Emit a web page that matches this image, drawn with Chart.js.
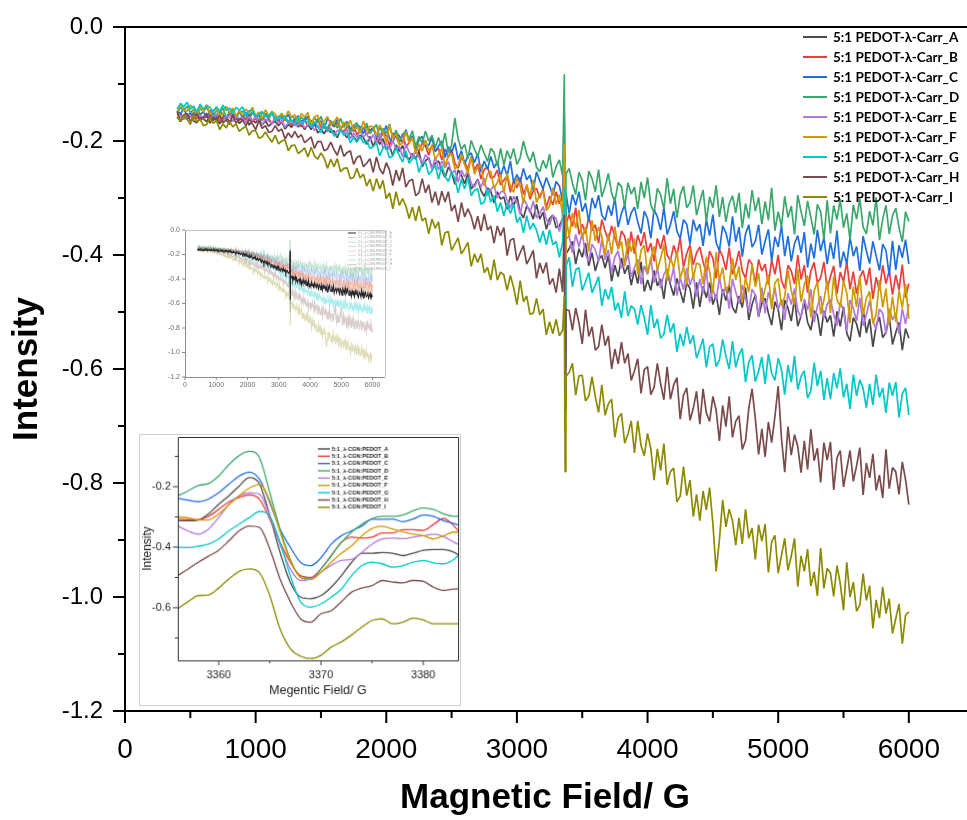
<!DOCTYPE html>
<html>
<head>
<meta charset="utf-8">
<title>EPR spectra of 5:1 PEDOT-λ-Carr</title>
<script src="https://cdn.jsdelivr.net/npm/chart.js@4.4.1/dist/chart.umd.min.js"></script>
<style>
  html, body { margin: 0; padding: 0; background: #fff; }
  #wrap { position: relative; width: 967px; height: 820px; overflow: hidden; background: #fff; }
  #main { position: absolute; left: 0; top: 0; }
  #overview { position: absolute; left: 160px; top: 222px; background: #fff; filter: blur(0.6px); }
  #esr { position: absolute; left: 139px; top: 434px; background: #fff; border: 1px solid #cfcfcf; }
</style>
</head>
<body>
<div id="wrap">
  <canvas id="main" width="967" height="820"></canvas>
  <canvas id="overview" width="232" height="186"></canvas>
  <canvas id="esr" width="322" height="272"></canvas>
</div>
<script>
// ---------- wide field sweep (G), one reading every 25 G ----------
const MAG_FIELD = [
  400,425,450,475,500,525,550,575,600,625,650,675,700,725,750,775,800,825,850,875,
  900,925,950,975,1000,1025,1050,1075,1100,1125,1150,1175,1200,1225,1250,1275,1300,1325,1350,1375,
  1400,1425,1450,1475,1500,1525,1550,1575,1600,1625,1650,1675,1700,1725,1750,1775,1800,1825,1850,1875,
  1900,1925,1950,1975,2000,2025,2050,2075,2100,2125,2150,2175,2200,2225,2250,2275,2300,2325,2350,2375,
  2400,2425,2450,2475,2500,2525,2550,2575,2600,2625,2650,2675,2700,2725,2750,2775,2800,2825,2850,2875,
  2900,2925,2950,2975,3000,3025,3050,3075,3100,3125,3150,3175,3200,3225,3250,3275,3300,3325,3350,3375,
  3400,3425,3450,3475,3500,3525,3550,3575,3600,3625,3650,3675,3700,3725,3750,3775,3800,3825,3850,3875,
  3900,3925,3950,3975,4000,4025,4050,4075,4100,4125,4150,4175,4200,4225,4250,4275,4300,4325,4350,4375,
  4400,4425,4450,4475,4500,4525,4550,4575,4600,4625,4650,4675,4700,4725,4750,4775,4800,4825,4850,4875,
  4900,4925,4950,4975,5000,5025,5050,5075,5100,5125,5150,5175,5200,5225,5250,5275,5300,5325,5350,5375,
  5400,5425,5450,5475,5500,5525,5550,5575,5600,5625,5650,5675,5700,5725,5750,5775,5800,5825,5850,5875,
  5900,5925,5950,5975,6000];

const SERIES_A = [
  -0.158,-0.166,-0.156,-0.162,-0.155,-0.165,-0.168,-0.159,-0.161,-0.166,-0.155,-0.164,-0.159,-0.170,-0.161,-0.158,-0.166,-0.164,-0.158,-0.169,
  -0.164,-0.160,-0.172,-0.164,-0.168,-0.161,-0.172,-0.165,-0.174,-0.169,-0.166,-0.173,-0.166,-0.179,-0.171,-0.176,-0.167,-0.175,-0.170,-0.180,
  -0.171,-0.180,-0.168,-0.186,-0.180,-0.187,-0.176,-0.185,-0.182,-0.194,-0.180,-0.187,-0.194,-0.185,-0.193,-0.200,-0.190,-0.194,-0.206,-0.192,
  -0.210,-0.195,-0.206,-0.196,-0.215,-0.209,-0.226,-0.207,-0.218,-0.208,-0.227,-0.233,-0.222,-0.232,-0.218,-0.245,-0.235,-0.229,-0.248,-0.239,
  -0.235,-0.251,-0.264,-0.246,-0.255,-0.276,-0.251,-0.260,-0.275,-0.257,-0.284,-0.277,-0.267,-0.287,-0.297,-0.282,-0.288,-0.309,-0.289,-0.302,
  -0.298,-0.320,-0.297,-0.314,-0.297,-0.325,-0.335,-0.314,-0.322,-0.337,-0.311,-0.337,-0.325,-0.355,-0.336,-0.330,-0.352,-0.349,-0.336,-0.398,
  -0.389,-0.376,-0.416,-0.389,-0.404,-0.379,-0.419,-0.396,-0.428,-0.408,-0.401,-0.423,-0.401,-0.446,-0.418,-0.438,-0.405,-0.433,-0.418,-0.453,
  -0.426,-0.450,-0.412,-0.464,-0.444,-0.462,-0.427,-0.454,-0.442,-0.477,-0.431,-0.452,-0.471,-0.441,-0.463,-0.484,-0.449,-0.459,-0.494,-0.448,
  -0.491,-0.455,-0.475,-0.448,-0.487,-0.469,-0.505,-0.460,-0.480,-0.453,-0.492,-0.502,-0.472,-0.492,-0.457,-0.514,-0.487,-0.470,-0.508,-0.485,
  -0.476,-0.502,-0.523,-0.482,-0.496,-0.532,-0.479,-0.493,-0.516,-0.476,-0.525,-0.507,-0.482,-0.518,-0.532,-0.498,-0.505,-0.542,-0.498,-0.518,
  -0.506,-0.543,-0.499,-0.525,-0.491,-0.537,-0.551,-0.510,-0.521,-0.544,-0.494,-0.537,-0.512,-0.561,-0.524,-0.509,-0.545,-0.536,-0.508,-0.557,
  -0.536,-0.518,-0.567,-0.529,-0.546];
const SERIES_B = [
  -0.155,-0.151,-0.162,-0.154,-0.157,-0.150,-0.161,-0.154,-0.162,-0.156,-0.154,-0.159,-0.153,-0.165,-0.157,-0.162,-0.152,-0.159,-0.155,-0.164,
  -0.156,-0.162,-0.153,-0.166,-0.161,-0.166,-0.157,-0.164,-0.161,-0.170,-0.158,-0.164,-0.168,-0.161,-0.166,-0.172,-0.163,-0.166,-0.175,-0.163,
  -0.174,-0.164,-0.171,-0.164,-0.175,-0.171,-0.182,-0.169,-0.175,-0.168,-0.180,-0.183,-0.175,-0.181,-0.172,-0.189,-0.181,-0.177,-0.189,-0.182,
  -0.178,-0.190,-0.200,-0.184,-0.191,-0.208,-0.186,-0.193,-0.204,-0.188,-0.210,-0.203,-0.194,-0.211,-0.218,-0.204,-0.209,-0.225,-0.207,-0.217,
  -0.213,-0.233,-0.214,-0.229,-0.214,-0.239,-0.248,-0.229,-0.237,-0.250,-0.227,-0.251,-0.240,-0.267,-0.250,-0.245,-0.265,-0.263,-0.251,-0.277,
  -0.269,-0.261,-0.290,-0.270,-0.282,-0.264,-0.294,-0.278,-0.302,-0.288,-0.283,-0.300,-0.284,-0.317,-0.297,-0.312,-0.289,-0.310,-0.299,-0.348,
  -0.328,-0.350,-0.317,-0.364,-0.346,-0.363,-0.333,-0.357,-0.347,-0.379,-0.338,-0.358,-0.375,-0.349,-0.369,-0.388,-0.358,-0.367,-0.399,-0.359,
  -0.398,-0.365,-0.384,-0.360,-0.395,-0.379,-0.411,-0.371,-0.389,-0.365,-0.400,-0.410,-0.383,-0.401,-0.369,-0.421,-0.397,-0.382,-0.417,-0.396,
  -0.386,-0.412,-0.432,-0.393,-0.406,-0.441,-0.390,-0.403,-0.426,-0.387,-0.434,-0.417,-0.393,-0.428,-0.441,-0.408,-0.416,-0.451,-0.408,-0.428,
  -0.416,-0.452,-0.408,-0.434,-0.400,-0.445,-0.459,-0.418,-0.428,-0.451,-0.400,-0.443,-0.418,-0.466,-0.428,-0.413,-0.449,-0.440,-0.412,-0.460,
  -0.438,-0.419,-0.468,-0.430,-0.447,-0.412,-0.460,-0.429,-0.468,-0.440,-0.427,-0.453,-0.422,-0.477,-0.439,-0.462,-0.418,-0.450,-0.428,-0.470,
  -0.435,-0.461,-0.417,-0.475,-0.450];
const SERIES_C = [
  -0.147,-0.153,-0.142,-0.157,-0.151,-0.156,-0.146,-0.153,-0.149,-0.159,-0.146,-0.152,-0.157,-0.148,-0.154,-0.160,-0.149,-0.152,-0.162,-0.148,
  -0.160,-0.150,-0.156,-0.149,-0.159,-0.155,-0.164,-0.152,-0.158,-0.151,-0.161,-0.164,-0.156,-0.162,-0.153,-0.167,-0.161,-0.156,-0.166,-0.161,
  -0.157,-0.166,-0.173,-0.161,-0.166,-0.178,-0.161,-0.166,-0.174,-0.162,-0.178,-0.173,-0.166,-0.178,-0.183,-0.172,-0.175,-0.187,-0.174,-0.181,
  -0.177,-0.194,-0.175,-0.188,-0.173,-0.196,-0.203,-0.185,-0.191,-0.203,-0.180,-0.201,-0.191,-0.215,-0.198,-0.192,-0.210,-0.207,-0.195,-0.219,
  -0.209,-0.200,-0.229,-0.210,-0.221,-0.203,-0.232,-0.217,-0.240,-0.226,-0.221,-0.238,-0.222,-0.254,-0.235,-0.250,-0.227,-0.247,-0.236,-0.262,
  -0.243,-0.261,-0.235,-0.273,-0.259,-0.272,-0.248,-0.268,-0.260,-0.286,-0.254,-0.270,-0.284,-0.264,-0.279,-0.295,-0.271,-0.279,-0.305,-0.291,
  -0.327,-0.294,-0.313,-0.289,-0.324,-0.309,-0.341,-0.300,-0.318,-0.295,-0.330,-0.339,-0.313,-0.331,-0.299,-0.351,-0.327,-0.312,-0.347,-0.326,
  -0.316,-0.342,-0.362,-0.323,-0.336,-0.371,-0.320,-0.333,-0.356,-0.317,-0.364,-0.347,-0.323,-0.358,-0.371,-0.338,-0.346,-0.381,-0.338,-0.358,
  -0.346,-0.384,-0.338,-0.366,-0.329,-0.378,-0.393,-0.349,-0.361,-0.385,-0.332,-0.377,-0.351,-0.403,-0.363,-0.347,-0.386,-0.376,-0.347,-0.399,
  -0.376,-0.355,-0.410,-0.368,-0.386,-0.348,-0.402,-0.367,-0.411,-0.380,-0.366,-0.396,-0.360,-0.422,-0.380,-0.406,-0.356,-0.393,-0.369,-0.416,
  -0.378,-0.407,-0.357,-0.422,-0.394,-0.416,-0.369,-0.402,-0.385,-0.428,-0.367,-0.393,-0.415,-0.376,-0.402,-0.427,-0.381,-0.392,-0.436,-0.375,
  -0.426,-0.383,-0.405,-0.373,-0.416];
const SERIES_D = [
  -0.151,-0.141,-0.147,-0.139,-0.150,-0.145,-0.156,-0.143,-0.148,-0.141,-0.152,-0.155,-0.147,-0.152,-0.142,-0.159,-0.151,-0.146,-0.157,-0.150,
  -0.148,-0.155,-0.161,-0.150,-0.154,-0.165,-0.150,-0.154,-0.161,-0.150,-0.164,-0.159,-0.152,-0.163,-0.167,-0.157,-0.160,-0.170,-0.158,-0.164,
  -0.160,-0.173,-0.158,-0.168,-0.157,-0.173,-0.178,-0.165,-0.169,-0.177,-0.160,-0.176,-0.168,-0.185,-0.173,-0.168,-0.181,-0.178,-0.169,-0.187,
  -0.179,-0.171,-0.196,-0.178,-0.187,-0.170,-0.196,-0.181,-0.201,-0.188,-0.183,-0.197,-0.182,-0.210,-0.192,-0.204,-0.183,-0.200,-0.190,-0.212,
  -0.194,-0.211,-0.186,-0.221,-0.207,-0.160,-0.196,-0.215,-0.206,-0.231,-0.199,-0.214,-0.227,-0.207,-0.222,-0.236,-0.213,-0.220,-0.244,-0.213,
  -0.242,-0.217,-0.232,-0.213,-0.241,-0.229,-0.200,-0.223,-0.237,-0.219,-0.246,-0.254,-0.234,-0.248,-0.223,-0.264,-0.245,-0.233,-0.261,-0.258,
  -0.248,-0.274,-0.294,-0.255,-0.269,-0.304,-0.253,-0.266,-0.289,-0.250,-0.298,-0.280,-0.257,-0.292,-0.306,-0.273,-0.280,-0.316,-0.273,-0.293,
  -0.281,-0.319,-0.272,-0.300,-0.264,-0.312,-0.326,-0.283,-0.294,-0.319,-0.265,-0.310,-0.284,-0.335,-0.295,-0.279,-0.317,-0.308,-0.278,-0.330,
  -0.307,-0.286,-0.341,-0.298,-0.317,-0.278,-0.333,-0.298,-0.342,-0.310,-0.296,-0.326,-0.291,-0.353,-0.310,-0.336,-0.286,-0.323,-0.299,-0.346,
  -0.306,-0.339,-0.282,-0.357,-0.324,-0.350,-0.297,-0.334,-0.314,-0.364,-0.295,-0.324,-0.349,-0.305,-0.334,-0.364,-0.311,-0.324,-0.373,-0.304,
  -0.362,-0.313,-0.338,-0.302,-0.352,-0.327,-0.373,-0.312,-0.337,-0.301,-0.351,-0.363,-0.323,-0.348,-0.299,-0.374,-0.337,-0.313,-0.363,-0.331,
  -0.318,-0.352,-0.377,-0.324,-0.341];
const SERIES_E = [
  -0.151,-0.157,-0.161,-0.152,-0.156,-0.163,-0.152,-0.155,-0.160,-0.151,-0.162,-0.158,-0.153,-0.161,-0.164,-0.157,-0.158,-0.166,-0.157,-0.161,
  -0.159,-0.167,-0.158,-0.164,-0.157,-0.167,-0.171,-0.162,-0.165,-0.170,-0.160,-0.170,-0.164,-0.176,-0.168,-0.165,-0.173,-0.172,-0.166,-0.177,
  -0.172,-0.168,-0.182,-0.173,-0.178,-0.170,-0.184,-0.177,-0.189,-0.182,-0.179,-0.187,-0.180,-0.196,-0.186,-0.194,-0.182,-0.193,-0.187,-0.200,
  -0.189,-0.203,-0.186,-0.213,-0.204,-0.215,-0.199,-0.214,-0.209,-0.228,-0.206,-0.219,-0.229,-0.216,-0.228,-0.240,-0.224,-0.231,-0.250,-0.228,
  -0.251,-0.235,-0.247,-0.236,-0.258,-0.251,-0.272,-0.251,-0.263,-0.252,-0.274,-0.281,-0.268,-0.281,-0.265,-0.296,-0.285,-0.278,-0.300,-0.290,
  -0.287,-0.304,-0.318,-0.297,-0.307,-0.329,-0.301,-0.311,-0.326,-0.305,-0.335,-0.327,-0.315,-0.337,-0.347,-0.330,-0.336,-0.359,-0.336,-0.372,
  -0.367,-0.396,-0.364,-0.386,-0.361,-0.399,-0.411,-0.381,-0.391,-0.411,-0.373,-0.408,-0.391,-0.431,-0.403,-0.393,-0.423,-0.418,-0.398,-0.438,
  -0.422,-0.407,-0.451,-0.419,-0.434,-0.405,-0.449,-0.422,-0.458,-0.434,-0.424,-0.448,-0.422,-0.471,-0.439,-0.461,-0.423,-0.453,-0.435,-0.473,
  -0.442,-0.468,-0.426,-0.483,-0.459,-0.479,-0.440,-0.469,-0.455,-0.494,-0.442,-0.465,-0.485,-0.453,-0.476,-0.499,-0.460,-0.470,-0.509,-0.457,
  -0.502,-0.465,-0.485,-0.457,-0.496,-0.478,-0.514,-0.467,-0.487,-0.459,-0.498,-0.509,-0.477,-0.497,-0.460,-0.518,-0.490,-0.472,-0.511,-0.486,
  -0.478,-0.504,-0.524,-0.483,-0.497,-0.533,-0.479,-0.493,-0.516,-0.475,-0.524,-0.505,-0.480,-0.516,-0.530,-0.495,-0.502,-0.538,-0.494,-0.514,
  -0.502,-0.538,-0.494,-0.521,-0.486];
const SERIES_F = [
  -0.150,-0.135,-0.145,-0.148,-0.137,-0.143,-0.155,-0.140,-0.149,-0.136,-0.152,-0.146,-0.143,-0.156,-0.152,-0.139,-0.150,-0.142,-0.157,-0.146,
  -0.156,-0.144,-0.151,-0.141,-0.156,-0.149,-0.162,-0.145,-0.156,-0.148,-0.153,-0.162,-0.151,-0.161,-0.147,-0.158,-0.154,-0.166,-0.152,-0.158,
  -0.150,-0.171,-0.158,-0.155,-0.172,-0.165,-0.157,-0.172,-0.166,-0.158,-0.180,-0.167,-0.174,-0.164,-0.181,-0.175,-0.185,-0.165,-0.183,-0.174,
  -0.175,-0.191,-0.172,-0.184,-0.203,-0.172,-0.196,-0.187,-0.207,-0.204,-0.184,-0.203,-0.194,-0.223,-0.205,-0.218,-0.198,-0.217,-0.208,-0.232,
  -0.223,-0.213,-0.245,-0.225,-0.223,-0.249,-0.243,-0.223,-0.242,-0.257,-0.228,-0.258,-0.246,-0.241,-0.279,-0.258,-0.253,-0.283,-0.273,-0.258,
  -0.291,-0.257,-0.280,-0.290,-0.265,-0.279,-0.310,-0.276,-0.297,-0.268,-0.308,-0.294,-0.288,-0.322,-0.314,-0.282,-0.311,-0.294,-0.329,-0.333,
  -0.368,-0.326,-0.353,-0.321,-0.372,-0.350,-0.394,-0.339,-0.375,-0.351,-0.367,-0.400,-0.362,-0.399,-0.350,-0.390,-0.376,-0.419,-0.371,-0.394,
  -0.371,-0.434,-0.392,-0.383,-0.432,-0.408,-0.385,-0.426,-0.406,-0.382,-0.445,-0.404,-0.423,-0.393,-0.441,-0.421,-0.452,-0.389,-0.441,-0.414,
  -0.417,-0.451,-0.403,-0.429,-0.467,-0.395,-0.445,-0.422,-0.464,-0.453,-0.405,-0.444,-0.420,-0.483,-0.439,-0.465,-0.417,-0.456,-0.432,-0.483,
  -0.459,-0.434,-0.495,-0.449,-0.441,-0.489,-0.473,-0.427,-0.462,-0.488,-0.425,-0.482,-0.452,-0.436,-0.510,-0.463,-0.447,-0.504,-0.479,-0.445,
  -0.502,-0.438,-0.478,-0.491,-0.445,-0.467,-0.519,-0.456,-0.491,-0.436,-0.505,-0.476,-0.464,-0.520,-0.504,-0.444,-0.492,-0.459,-0.520,-0.473,
  -0.517,-0.462,-0.493,-0.451,-0.512];
const SERIES_G = [
  -0.144,-0.134,-0.140,-0.132,-0.144,-0.139,-0.149,-0.135,-0.144,-0.138,-0.141,-0.149,-0.140,-0.148,-0.137,-0.146,-0.142,-0.152,-0.141,-0.146,
  -0.140,-0.155,-0.147,-0.146,-0.157,-0.153,-0.148,-0.158,-0.155,-0.150,-0.165,-0.156,-0.162,-0.156,-0.167,-0.163,-0.171,-0.158,-0.170,-0.165,
  -0.166,-0.176,-0.166,-0.174,-0.185,-0.169,-0.183,-0.179,-0.191,-0.190,-0.180,-0.190,-0.186,-0.203,-0.194,-0.202,-0.192,-0.203,-0.199,-0.213,
  -0.210,-0.203,-0.226,-0.212,-0.211,-0.230,-0.226,-0.212,-0.226,-0.237,-0.217,-0.239,-0.231,-0.227,-0.255,-0.240,-0.237,-0.259,-0.252,-0.242,
  -0.267,-0.243,-0.262,-0.271,-0.254,-0.266,-0.291,-0.267,-0.284,-0.264,-0.296,-0.286,-0.284,-0.311,-0.307,-0.284,-0.307,-0.296,-0.324,-0.308,
  -0.331,-0.309,-0.327,-0.311,-0.343,-0.333,-0.361,-0.331,-0.355,-0.344,-0.356,-0.378,-0.358,-0.382,-0.356,-0.382,-0.376,-0.404,-0.378,-0.420,
  -0.404,-0.456,-0.426,-0.422,-0.462,-0.447,-0.431,-0.466,-0.453,-0.438,-0.489,-0.460,-0.478,-0.456,-0.497,-0.484,-0.510,-0.464,-0.507,-0.489,
  -0.495,-0.522,-0.488,-0.510,-0.540,-0.488,-0.528,-0.512,-0.546,-0.539,-0.505,-0.536,-0.520,-0.570,-0.538,-0.560,-0.526,-0.556,-0.541,-0.581,
  -0.565,-0.547,-0.597,-0.561,-0.556,-0.596,-0.584,-0.548,-0.578,-0.600,-0.551,-0.597,-0.575,-0.564,-0.623,-0.588,-0.576,-0.622,-0.604,-0.579,
  -0.626,-0.574,-0.607,-0.620,-0.581,-0.601,-0.645,-0.593,-0.623,-0.577,-0.636,-0.613,-0.603,-0.651,-0.638,-0.589,-0.630,-0.603,-0.654,-0.616,
  -0.653,-0.607,-0.634,-0.599,-0.650,-0.626,-0.670,-0.610,-0.647,-0.619,-0.634,-0.668,-0.626,-0.663,-0.610,-0.650,-0.633,-0.677,-0.624,-0.647,
  -0.623,-0.685,-0.643,-0.633,-0.681];
const SERIES_H = [
  -0.148,-0.166,-0.154,-0.152,-0.165,-0.159,-0.152,-0.164,-0.158,-0.152,-0.169,-0.158,-0.163,-0.155,-0.168,-0.163,-0.171,-0.154,-0.169,-0.161,
  -0.163,-0.173,-0.162,-0.170,-0.180,-0.164,-0.178,-0.173,-0.185,-0.183,-0.173,-0.183,-0.179,-0.196,-0.186,-0.194,-0.183,-0.194,-0.189,-0.203,
  -0.198,-0.193,-0.213,-0.201,-0.201,-0.217,-0.214,-0.202,-0.215,-0.225,-0.207,-0.227,-0.220,-0.217,-0.241,-0.229,-0.226,-0.245,-0.239,-0.231,
  -0.255,-0.228,-0.249,-0.258,-0.238,-0.251,-0.278,-0.251,-0.270,-0.247,-0.281,-0.270,-0.267,-0.296,-0.291,-0.266,-0.291,-0.277,-0.308,-0.289,
  -0.313,-0.288,-0.307,-0.289,-0.323,-0.312,-0.342,-0.308,-0.333,-0.319,-0.332,-0.355,-0.332,-0.358,-0.328,-0.356,-0.349,-0.379,-0.349,-0.366,
  -0.352,-0.401,-0.374,-0.371,-0.410,-0.396,-0.383,-0.416,-0.405,-0.392,-0.441,-0.414,-0.432,-0.413,-0.452,-0.441,-0.466,-0.424,-0.465,-0.495,
  -0.498,-0.532,-0.493,-0.519,-0.556,-0.496,-0.543,-0.526,-0.567,-0.561,-0.522,-0.559,-0.542,-0.600,-0.565,-0.591,-0.553,-0.590,-0.573,-0.620,
  -0.603,-0.582,-0.643,-0.601,-0.596,-0.645,-0.632,-0.590,-0.626,-0.654,-0.596,-0.653,-0.628,-0.615,-0.688,-0.646,-0.633,-0.690,-0.669,-0.639,
  -0.697,-0.635,-0.677,-0.692,-0.648,-0.672,-0.726,-0.664,-0.701,-0.648,-0.720,-0.692,-0.682,-0.741,-0.726,-0.669,-0.635,-0.687,-0.750,-0.705,
  -0.754,-0.693,-0.729,-0.683,-0.630,-0.721,-0.781,-0.701,-0.751,-0.715,-0.736,-0.782,-0.726,-0.776,-0.706,-0.761,-0.739,-0.799,-0.729,-0.760,
  -0.728,-0.812,-0.756,-0.743,-0.807,-0.775,-0.743,-0.797,-0.770,-0.738,-0.821,-0.765,-0.791,-0.749,-0.813,-0.786,-0.826,-0.741,-0.810,-0.773,
  -0.780,-0.820,-0.763,-0.794,-0.838];
const SERIES_I = [
  -0.157,-0.166,-0.155,-0.162,-0.171,-0.154,-0.167,-0.162,-0.173,-0.171,-0.159,-0.169,-0.164,-0.180,-0.170,-0.177,-0.166,-0.175,-0.170,-0.183,
  -0.178,-0.174,-0.190,-0.182,-0.182,-0.195,-0.193,-0.184,-0.194,-0.202,-0.190,-0.205,-0.200,-0.198,-0.217,-0.208,-0.207,-0.222,-0.218,-0.212,
  -0.228,-0.211,-0.226,-0.232,-0.221,-0.230,-0.248,-0.232,-0.245,-0.231,-0.254,-0.248,-0.247,-0.266,-0.264,-0.248,-0.265,-0.258,-0.279,-0.267,
  -0.288,-0.266,-0.284,-0.269,-0.301,-0.291,-0.319,-0.289,-0.313,-0.301,-0.314,-0.336,-0.316,-0.340,-0.314,-0.340,-0.335,-0.363,-0.337,-0.353,
  -0.342,-0.383,-0.361,-0.359,-0.392,-0.381,-0.370,-0.398,-0.389,-0.378,-0.420,-0.398,-0.413,-0.398,-0.431,-0.422,-0.444,-0.408,-0.444,-0.430,
  -0.435,-0.462,-0.436,-0.457,-0.487,-0.445,-0.482,-0.472,-0.504,-0.502,-0.476,-0.505,-0.495,-0.540,-0.517,-0.538,-0.513,-0.542,-0.532,-0.613,
  -0.606,-0.590,-0.646,-0.612,-0.611,-0.656,-0.648,-0.614,-0.649,-0.676,-0.628,-0.681,-0.661,-0.653,-0.720,-0.686,-0.678,-0.730,-0.714,-0.691,
  -0.747,-0.691,-0.734,-0.752,-0.713,-0.740,-0.795,-0.740,-0.778,-0.731,-0.803,-0.780,-0.774,-0.833,-0.823,-0.771,-0.822,-0.795,-0.859,-0.820,
  -0.866,-0.814,-0.847,-0.808,-0.871,-0.955,-0.900,-0.830,-0.877,-0.846,-0.866,-0.909,-0.861,-0.907,-0.846,-0.897,-0.879,-0.934,-0.873,-0.902,
  -0.872,-0.957,-0.903,-0.892,-0.958,-0.927,-0.897,-0.953,-0.928,-0.897,-0.982,-0.928,-0.955,-0.916,-0.981,-0.956,-0.998,-0.914,-0.985,-0.950,
  -0.958,-0.999,-0.945,-0.976,-1.023,-0.939,-1.000,-0.974,-1.025,-1.014,-0.959,-1.006,-0.980,-1.055,-1.005,-1.037,-0.982,-1.029,-1.003,-1.064,
  -1.038,-1.012,-1.082,-1.032,-1.026];

// narrow resonance line sitting between 3350 G and 3375 G (peak, then trough), A..I
const SPIKE_FIELD = [3363, 3369];
const SPIKE_TOP = [-0.170, -0.227, -0.152, -0.083, -0.220, -0.205, -0.282, -0.330, -0.472];
const SPIKE_BOTTOM = [-0.570, -0.500, -0.461, -0.505, -0.510, -0.507, -0.598, -0.670, -0.780];

const SERIES_NAMES = ['5:1 PEDOT-λ-Carr_A','5:1 PEDOT-λ-Carr_B','5:1 PEDOT-λ-Carr_C','5:1 PEDOT-λ-Carr_D',
  '5:1 PEDOT-λ-Carr_E','5:1 PEDOT-λ-Carr_F','5:1 PEDOT-λ-Carr_G','5:1 PEDOT-λ-Carr_H','5:1 PEDOT-λ-Carr_I'];
const X_TICKS = [0, 1000, 2000, 3000, 4000, 5000, 6000];
const X_LABELS = ['0', '1000', '2000', '3000', '4000', '5000', '6000'];
const X_MINOR = [500, 1500, 2500, 3500, 4500, 5500];
const Y_TICKS = [0, -0.2, -0.4, -0.6, -0.8, -1.0, -1.2];
const Y_LABELS = ['0.0', '-0.2', '-0.4', '-0.6', '-0.8', '-1.0', '-1.2'];
const Y_MINOR = [-0.1, -0.3, -0.5, -0.7, -0.9, -1.1];

// ---------- narrow sweep around the resonance (G) ----------
const ESR_FIELD = [3356,3357,3358,3359,3360,3361,3362,3363,3364,3365,3366,3367,3368,3369,3370,
  3371,3372,3373,3374,3375,3376,3377,3378,3379,3380,3381,3382,3383,3383.4];
const ESR_A = [-0.313,-0.313,-0.310,-0.290,-0.258,-0.230,-0.198,-0.170,-0.192,-0.296,-0.417,-0.516,-0.565,-0.570,-0.560,
  -0.532,-0.494,-0.450,-0.420,-0.420,-0.418,-0.420,-0.428,-0.420,-0.410,-0.408,-0.408,-0.417,-0.425];
const ESR_B = [-0.307,-0.309,-0.309,-0.298,-0.275,-0.250,-0.236,-0.227,-0.242,-0.307,-0.384,-0.450,-0.494,-0.500,-0.472,
  -0.428,-0.384,-0.367,-0.370,-0.367,-0.353,-0.353,-0.342,-0.342,-0.345,-0.325,-0.305,-0.330,-0.345];
const ESR_C = [-0.238,-0.245,-0.250,-0.241,-0.220,-0.192,-0.165,-0.152,-0.176,-0.253,-0.340,-0.400,-0.450,-0.461,-0.435,
  -0.390,-0.362,-0.346,-0.330,-0.308,-0.308,-0.307,-0.316,-0.307,-0.294,-0.298,-0.313,-0.322,-0.327];
const ESR_D = [-0.230,-0.214,-0.196,-0.190,-0.165,-0.127,-0.097,-0.083,-0.105,-0.220,-0.340,-0.440,-0.500,-0.505,-0.472,
  -0.428,-0.384,-0.350,-0.324,-0.305,-0.298,-0.298,-0.294,-0.280,-0.270,-0.275,-0.290,-0.298,-0.298];
const ESR_E = [-0.330,-0.346,-0.357,-0.340,-0.302,-0.258,-0.230,-0.220,-0.225,-0.296,-0.390,-0.472,-0.510,-0.505,-0.483,
  -0.460,-0.444,-0.440,-0.417,-0.390,-0.373,-0.370,-0.372,-0.367,-0.362,-0.357,-0.365,-0.384,-0.390];
const ESR_F = [-0.300,-0.303,-0.310,-0.310,-0.290,-0.260,-0.230,-0.205,-0.192,-0.247,-0.350,-0.444,-0.500,-0.507,-0.483,
  -0.450,-0.420,-0.395,-0.362,-0.338,-0.331,-0.340,-0.349,-0.357,-0.362,-0.373,-0.362,-0.350,-0.350];
const ESR_G = [-0.400,-0.401,-0.397,-0.390,-0.373,-0.346,-0.324,-0.302,-0.282,-0.298,-0.384,-0.494,-0.580,-0.598,-0.587,
  -0.565,-0.538,-0.494,-0.461,-0.450,-0.455,-0.466,-0.461,-0.450,-0.444,-0.452,-0.455,-0.440,-0.428];
const ESR_H = [-0.494,-0.472,-0.450,-0.430,-0.410,-0.379,-0.346,-0.330,-0.335,-0.406,-0.505,-0.580,-0.636,-0.648,-0.620,
  -0.610,-0.580,-0.548,-0.535,-0.527,-0.510,-0.515,-0.518,-0.510,-0.513,-0.532,-0.543,-0.538,-0.538];
const ESR_I = [-0.603,-0.580,-0.560,-0.558,-0.535,-0.505,-0.480,-0.472,-0.485,-0.560,-0.670,-0.735,-0.760,-0.768,-0.757,
  -0.730,-0.713,-0.690,-0.664,-0.642,-0.637,-0.653,-0.648,-0.634,-0.640,-0.653,-0.653,-0.653,-0.653];
const ESR_NAMES = ['5:1_λ-CGN:PEDOT_A','5:1_λ-CGN:PEDOT_B','5:1_λ-CGN:PEDOT_C','5:1_λ-CGN:PEDOT_D',
  '5:1_λ-CGN:PEDOT_E','5:1_λ-CGN:PEDOT_F','5:1_λ-CGN:PEDOT_G','5:1_λ-CGN:PEDOT_H','5:1_λ-CGN:PEDOT_I'];
const ESR_X_TICKS = [3360, 3370, 3380];
const ESR_X_MINOR = [3365, 3375];
const ESR_Y_TICKS = [-0.2, -0.4, -0.6];
const ESR_Y_MINOR = [-0.1, -0.3, -0.5, -0.7];

// small overview panel
const OV_X_TICKS = [0, 1000, 2000, 3000, 4000, 5000, 6000];
const OV_Y_TICKS = [0, -0.2, -0.4, -0.6, -0.8, -1.0, -1.2];
const OV_Y_LABELS = ['0.0', '-0.2', '-0.4', '-0.6', '-0.8', '-1.0', '-1.2'];

// ---------- styling ----------
const FONT = "'Liberation Sans', Arial, Helvetica, sans-serif";
const COLORS = ['#4a4a4a', '#f03c3c', '#1f6fe0', '#3aa86b', '#b277e0', '#d09a00', '#00c8c8', '#7b4b4b', '#8c8a00'];
const PALE = ['#262626', 'rgba(240,60,60,0.28)', 'rgba(31,111,224,0.25)', 'rgba(58,168,107,0.28)', 'rgba(178,119,224,0.28)',
  'rgba(208,154,0,0.28)', 'rgba(0,200,200,0.32)', 'rgba(123,75,75,0.28)', 'rgba(140,138,0,0.28)'];

Chart.defaults.font.family = FONT;
Chart.defaults.color = '#000';

const SERIES = [SERIES_A, SERIES_B, SERIES_C, SERIES_D, SERIES_E, SERIES_F, SERIES_G, SERIES_H, SERIES_I];
const ESR = [ESR_A, ESR_B, ESR_C, ESR_D, ESR_E, ESR_F, ESR_G, ESR_H, ESR_I];

function buildPoints(values, k) {
  const pts = [];
  MAG_FIELD.forEach((f, i) => {
    pts.push({ x: f, y: values[i] });
    if (f === 3350) {
      pts.push({ x: SPIKE_FIELD[0], y: SPIKE_TOP[k] });
      pts.push({ x: SPIKE_FIELD[1], y: SPIKE_BOTTOM[k] });
    }
  });
  return pts;
}

function strokeTicks(ctx, scale, values, len, dir) {
  values.forEach(v => {
    const p = scale.getPixelForValue(v);
    if (dir === 'left') { ctx.moveTo(scale.right, p); ctx.lineTo(scale.right - len, p); }
    else { ctx.moveTo(p, scale.top); ctx.lineTo(p, scale.top + len); }
  });
}

// fixed axis boxes: the label overhang must not push the plot area around
function fixX(h) { return s => { s.height = h; s.paddingLeft = 0; s.paddingRight = 0; }; }
function fixY(w) { return s => { s.width = w; s.paddingTop = 0; s.paddingBottom = 0; }; }

// ---------- main plot ----------
const mainDecor = {
  id: 'mainDecor',
  afterDatasetsDraw(chart) {
    const ctx = chart.ctx;
    ctx.save();
    ctx.font = "bold 13.5px Lato, 'Liberation Sans', sans-serif";
    ctx.textBaseline = 'middle';
    ctx.textAlign = 'left';
    SERIES_NAMES.forEach((name, i) => {
      const yy = 37 + i * 20;
      ctx.strokeStyle = COLORS[i];
      ctx.lineWidth = 2;
      ctx.beginPath(); ctx.moveTo(803, yy); ctx.lineTo(827, yy); ctx.stroke();
      ctx.fillStyle = '#000';
      ctx.fillText(name, 833, yy + 1);
    });
    ctx.restore();
  },
  afterDraw(chart) {
    const { ctx, chartArea: a, scales: { x, y } } = chart;
    ctx.save();
    ctx.strokeStyle = '#000';
    ctx.lineWidth = 2;
    ctx.beginPath();
    ctx.moveTo(chart.width, a.top); ctx.lineTo(a.left, a.top);
    ctx.lineTo(a.left, a.bottom); ctx.lineTo(chart.width, a.bottom);
    strokeTicks(ctx, y, Y_TICKS, 12, 'left');
    strokeTicks(ctx, y, Y_MINOR, 7, 'left');
    strokeTicks(ctx, x, X_TICKS, 12, 'down');
    strokeTicks(ctx, x, X_MINOR, 7, 'down');
    ctx.stroke();
    ctx.restore();
  }
};

new Chart(document.getElementById('main'), {
  type: 'line',
  data: {
    datasets: SERIES.map((vals, k) => ({
      label: SERIES_NAMES[k],
      data: buildPoints(vals, k),
      borderColor: COLORS[k],
      borderWidth: 1.7,
      borderJoinStyle: 'bevel',
      pointRadius: 0,
      tension: 0,
      fill: false,
      order: SERIES.length - 1 - k
    }))
  },
  options: {
    responsive: false,
    animation: false,
    events: [],
    layout: { autoPadding: false, padding: { left: 0, top: 27, right: 2, bottom: 0 } },
    plugins: { legend: { display: false }, tooltip: { enabled: false } },
    scales: {
      x: {
        type: 'linear', min: 0, max: 6430,
        grid: { display: false, drawTicks: false },
        border: { display: false },
        afterBuildTicks: s => { s.ticks = X_TICKS.map(v => ({ value: v })); },
        afterFit: fixX(109),
        ticks: { padding: 22, autoSkip: false, maxRotation: 0, color: '#000',
          font: { family: FONT, size: 28 }, callback: (v, i) => X_LABELS[i] },
        title: { display: true, text: 'Magnetic Field/ G', color: '#000',
          font: { family: FONT, size: 35, weight: 'bold' }, padding: { top: 0, bottom: 1 } }
      },
      y: {
        type: 'linear', min: -1.2, max: 0,
        grid: { display: false, drawTicks: false },
        border: { display: false },
        afterBuildTicks: s => { s.ticks = Y_TICKS.map(v => ({ value: v })); },
        afterFit: fixY(125),
        ticks: { padding: 22, color: '#000', font: { family: FONT, size: 24 },
          callback: (v, i) => Y_LABELS[i] },
        title: { display: true, text: 'Intensity', color: '#000',
          font: { family: FONT, size: 35, weight: 'bold' }, padding: { top: 6, bottom: 0 } }
      }
    }
  },
  plugins: [mainDecor]
});

// ---------- overview panel ----------
const overviewDecor = {
  id: 'overviewDecor',
  afterDraw(chart) {
    const { ctx, chartArea: a, scales: { x, y } } = chart;
    ctx.save();
    ctx.strokeStyle = '#8a8a8a';
    ctx.lineWidth = 1;
    ctx.beginPath();
    ctx.moveTo(a.left + 0.5, a.top); ctx.lineTo(a.left + 0.5, a.bottom + 0.5); ctx.lineTo(a.right, a.bottom + 0.5);
    strokeTicks(ctx, y, OV_Y_TICKS, 3, 'left');
    strokeTicks(ctx, x, OV_X_TICKS, 3, 'down');
    ctx.stroke();
    ctx.strokeStyle = '#c4c4c4';
    ctx.beginPath();
    ctx.moveTo(a.left, a.top + 0.5); ctx.lineTo(a.right + 0.5, a.top + 0.5); ctx.lineTo(a.right + 0.5, a.bottom);
    ctx.stroke();
    ctx.font = '3.4px ' + FONT;
    ctx.textBaseline = 'middle';
    ESR_NAMES.forEach((name, i) => {
      const yy = 11 + i * 4.5;
      ctx.strokeStyle = PALE[i];
      ctx.beginPath(); ctx.moveTo(188, yy); ctx.lineTo(196, yy); ctx.stroke();
      ctx.fillStyle = '#9a9a9a';
      ctx.fillText(name, 198, yy);
    });
    ctx.restore();
  }
};

new Chart(document.getElementById('overview'), {
  type: 'line',
  data: {
    datasets: SERIES.map((vals, k) => ({
      data: buildPoints(vals, k),
      borderColor: PALE[k],
      borderWidth: k === 0 ? 1.1 : 1.3,
      pointRadius: 0,
      tension: 0,
      order: k === 0 ? 0 : 1
    }))
  },
  options: {
    responsive: false,
    animation: false,
    events: [],
    layout: { autoPadding: false, padding: { left: 0, top: 8, right: 7, bottom: 0 } },
    plugins: { legend: { display: false }, tooltip: { enabled: false } },
    scales: {
      x: {
        type: 'linear', min: 0, max: 6400,
        grid: { display: false, drawTicks: false }, border: { display: false },
        afterBuildTicks: s => { s.ticks = OV_X_TICKS.map(v => ({ value: v })); },
        afterFit: fixX(31),
        ticks: { padding: 4, autoSkip: false, maxRotation: 0, color: '#6e6e6e', font: { size: 7 },
          callback: (v, i) => String(OV_X_TICKS[i]) }
      },
      y: {
        type: 'linear', min: -1.2, max: 0,
        grid: { display: false, drawTicks: false }, border: { display: false },
        afterBuildTicks: s => { s.ticks = OV_Y_TICKS.map(v => ({ value: v })); },
        afterFit: fixY(25),
        ticks: { padding: 5, color: '#6e6e6e', font: { size: 7 }, callback: (v, i) => OV_Y_LABELS[i] }
      }
    }
  },
  plugins: [overviewDecor]
});

// ---------- resonance close-up ----------
const esrDecor = {
  id: 'esrDecor',
  afterDraw(chart) {
    const { ctx, chartArea: a, scales: { x, y } } = chart;
    ctx.save();
    ctx.strokeStyle = '#333';
    ctx.lineWidth = 1;
    ctx.beginPath();
    ctx.rect(a.left + 0.5, a.top + 0.5, a.right - a.left, a.bottom - a.top);
    strokeTicks(ctx, y, ESR_Y_TICKS, 5, 'left');
    strokeTicks(ctx, y, ESR_Y_MINOR, 3, 'left');
    strokeTicks(ctx, x, ESR_X_TICKS, 5, 'down');
    strokeTicks(ctx, x, ESR_X_MINOR, 3, 'down');
    ctx.stroke();
    ctx.font = 'bold 5.6px ' + FONT;
    ctx.textBaseline = 'middle';
    ESR_NAMES.forEach((name, i) => {
      const yy = 14 + i * 7.35;
      ctx.strokeStyle = COLORS[i];
      ctx.lineWidth = 1.4;
      ctx.beginPath(); ctx.moveTo(179, yy); ctx.lineTo(191, yy); ctx.stroke();
      ctx.fillStyle = '#222';
      ctx.fillText(name, 193, yy);
    });
    ctx.restore();
  }
};

new Chart(document.getElementById('esr'), {
  type: 'line',
  data: {
    datasets: ESR.map((vals, k) => ({
      data: ESR_FIELD.map((f, i) => ({ x: f, y: vals[i] })),
      borderColor: COLORS[k],
      borderWidth: 1.3,
      pointRadius: 0,
      cubicInterpolationMode: 'monotone',
      order: ESR.length - 1 - k
    }))
  },
  options: {
    responsive: false,
    animation: false,
    events: [],
    layout: { autoPadding: false, padding: { left: 0, top: 2, right: 2, bottom: 0 } },
    plugins: { legend: { display: false }, tooltip: { enabled: false } },
    scales: {
      x: {
        type: 'linear', min: 3356, max: 3383.4,
        grid: { display: false, drawTicks: false }, border: { display: false },
        afterBuildTicks: s => { s.ticks = ESR_X_TICKS.map(v => ({ value: v })); },
        afterFit: fixX(45),
        ticks: { padding: 8, autoSkip: false, maxRotation: 0, color: '#222', font: { size: 11 },
          callback: (v, i) => String(ESR_X_TICKS[i]) },
        title: { display: true, text: 'Megentic Field/ G', color: '#222', font: { size: 12.5 },
          padding: { top: 0, bottom: 7 } }
      },
      y: {
        type: 'linear', min: -0.774, max: -0.036,
        grid: { display: false, drawTicks: false }, border: { display: false },
        afterBuildTicks: s => { s.ticks = ESR_Y_TICKS.map(v => ({ value: v })); },
        afterFit: fixY(38),
        ticks: { padding: 7, color: '#222', font: { size: 11 }, callback: (v, i) => ESR_Y_TICKS[i].toFixed(1) },
        title: { display: true, text: 'Intensity', color: '#222', font: { size: 12 }, padding: { top: 0, bottom: 0 } }
      }
    }
  },
  plugins: [esrDecor]
});
</script>
</body>
</html>
